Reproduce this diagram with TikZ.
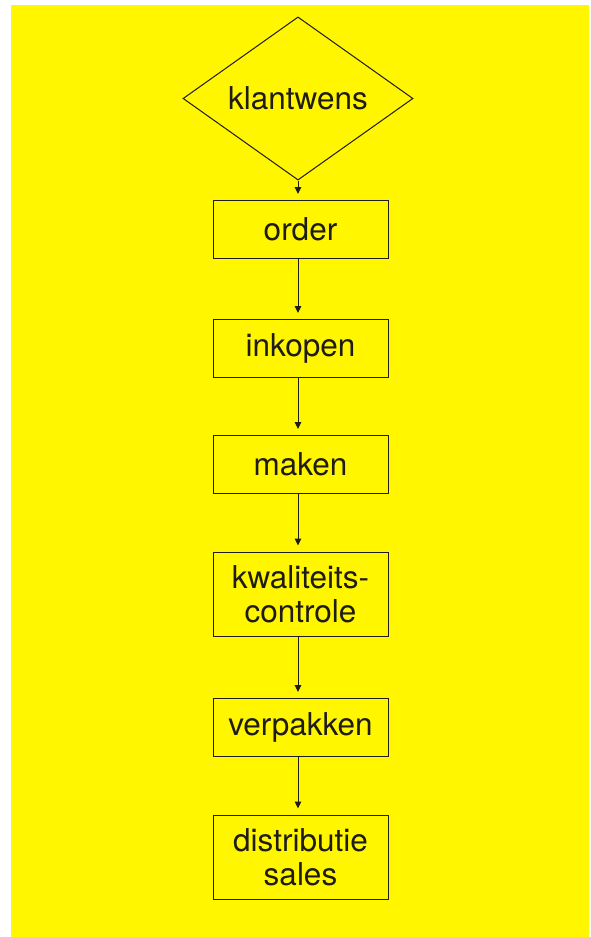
\documentclass[tikz,border=0pt]{standalone}
\usepackage{fontspec}
\setmainfont{TeX Gyre Heros}
\usetikzlibrary{shapes.geometric,arrows.meta}
\definecolor{bgyellow}{RGB}{255,246,0}
\definecolor{ink}{RGB}{30,28,20}
\tikzset{
  stepbox/.style={draw=ink, line width=1pt, rectangle, minimum width=175pt, inner sep=0pt, align=center, text=ink, font=\fontsize{31.5}{34}\selectfont},
  onebox/.style={stepbox, minimum height=58pt},
  twobox/.style={stepbox, minimum height=84pt},
  choice/.style={draw=ink, line width=1pt, diamond, minimum width=230pt, minimum height=117pt, inner sep=0pt, text=ink, font=\fontsize{31.5}{34}\selectfont},
  flow/.style={draw=ink, line width=1pt, -{Triangle[width=6.5pt,length=7pt]}, shorten >=6pt}
}
\begin{document}
\begin{tikzpicture}[x=1pt,y=-1pt]
\useasboundingbox (0,0) rectangle (591,937);
\fill[white] (0,0) rectangle (591,937);
\fill[bgyellow] (11,5) rectangle (589,937);
\node[choice] (wens) at (298,98.5) {klantwens};
\node[onebox] (order) at (300.5,229.5) {order};
\node[onebox] (inkopen) at (300.5,348.5) {inkopen};
\node[onebox] (maken) at (300.5,464.5) {maken};
\node[twobox] (kwal) at (300.5,594) {kwaliteits-\\controle};
\node[onebox] (verp) at (300.5,727.5) {verpakken};
\node[twobox] (distr) at (300.5,857) {distributie\\sales};
\draw[flow] (wens.south) -- (wens.south |- order.north);
\draw[flow] (wens.south |- order.south) -- (wens.south |- inkopen.north);
\draw[flow] (wens.south |- inkopen.south) -- (wens.south |- maken.north);
\draw[flow] (wens.south |- maken.south) -- (wens.south |- kwal.north);
\draw[flow] (wens.south |- kwal.south) -- (wens.south |- verp.north);
\draw[flow] (wens.south |- verp.south) -- (wens.south |- distr.north);
\end{tikzpicture}
\end{document}
